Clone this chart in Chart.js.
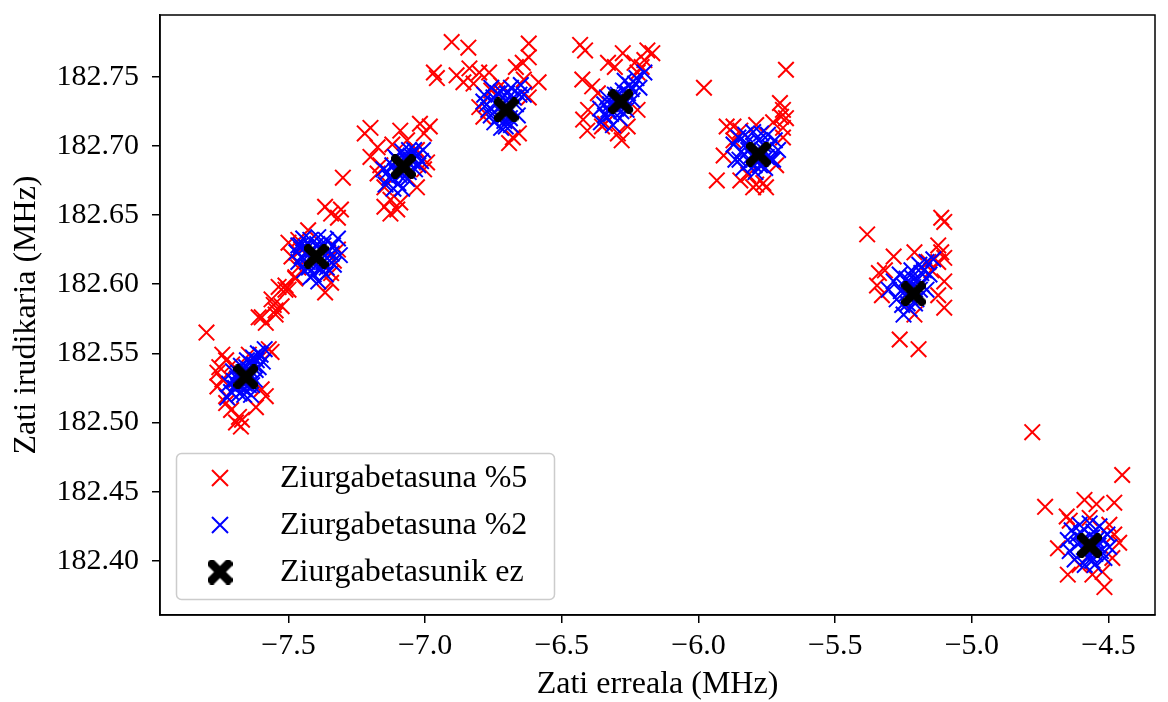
<!DOCTYPE html>
<html>
<head>
<meta charset="utf-8">
<script src="https://cdn.jsdelivr.net/npm/chart.js@4.4.1/dist/chart.umd.min.js"></script>
<style>
  html, body { margin: 0; padding: 0; background: #fff; }
  #wrap { width: 1168px; height: 702px; }
</style>
</head>
<body>
<div id="wrap"><canvas id="chartjs" width="1168" height="702"></canvas></div>
<script>
// axis ticks
const xTicks = [-7.5, -7.0, -6.5, -6.0, -5.5, -5.0, -4.5];
const yTicks = [182.40, 182.45, 182.50, 182.55, 182.60, 182.65, 182.70, 182.75];

// series labels
const seriesLabels = ["Ziurgabetasuna %5", "Ziurgabetasuna %2", "Ziurgabetasunik ez"];

// uncertainty 5% (red)
const red5 = [
    // cluster 1
    [-7.800, 182.565], [-7.554, 182.585], [-7.525, 182.584], [-7.609, 182.576], [-7.583, 182.572],
    [-7.547, 182.578], [-7.572, 182.553], [-7.562, 182.551], [-7.742, 182.549], [-7.728, 182.545],
    [-7.753, 182.540], [-7.760, 182.536], [-7.742, 182.531], [-7.760, 182.526], [-7.598, 182.524],
    [-7.583, 182.519], [-7.728, 182.519], [-7.728, 182.514], [-7.710, 182.509], [-7.681, 182.504],
    [-7.692, 182.500], [-7.674, 182.497], [-7.670, 182.502], [-7.619, 182.511], [-7.706, 182.542],
    [-7.645, 182.549],
    // cluster 2
    [-7.500, 182.596], [-7.475, 182.604], [-7.511, 182.599],
    [-7.366, 182.656], [-7.344, 182.651], [-7.308, 182.654], [-7.319, 182.648], [-7.301, 182.677],
    [-7.500, 182.630], [-7.464, 182.632], [-7.453, 182.625], [-7.489, 182.620], [-7.464, 182.612],
    [-7.475, 182.605], [-7.536, 182.598], [-7.511, 182.596], [-7.562, 182.589], [-7.547, 182.581],
    [-7.598, 182.576], [-7.366, 182.594], [-7.344, 182.601], [-7.344, 182.608], [-7.319, 182.625],
    [-7.428, 182.639], [-7.334, 182.617],
    // cluster 3
    [-7.200, 182.713], [-7.221, 182.709], [-7.174, 182.699], [-7.200, 182.692], [-7.091, 182.711],
    [-7.019, 182.716], [-6.983, 182.714], [-7.004, 182.709], [-7.174, 182.680], [-7.149, 182.670],
    [-7.127, 182.661], [-7.149, 182.656], [-7.091, 182.659], [-7.004, 182.683], [-7.030, 182.670],
    [-6.993, 182.688], [-7.127, 182.651], [-7.102, 182.654], [-7.164, 182.686], [-7.066, 182.704],
    [-7.120, 182.701], [-7.030, 182.697],
    // cluster 4
    [-6.903, 182.775], [-6.842, 182.771], [-6.968, 182.753], [-6.957, 182.749], [-6.885, 182.751],
    [-6.860, 182.746], [-6.838, 182.756], [-6.802, 182.753], [-6.823, 182.745], [-6.766, 182.753],
    [-6.668, 182.757], [-6.621, 182.774], [-6.621, 182.764], [-6.643, 182.760], [-6.585, 182.746],
    [-6.621, 182.735], [-6.802, 182.728], [-6.787, 182.721], [-6.679, 182.706], [-6.657, 182.709],
    [-6.693, 182.702], [-6.758, 182.740], [-6.722, 182.744], [-6.639, 182.748],
    // cluster 5
    [-6.433, 182.773], [-6.415, 182.769], [-6.277, 182.767], [-6.169, 182.767], [-6.198, 182.762],
    [-6.234, 182.760], [-6.306, 182.757], [-6.425, 182.748], [-6.389, 182.743], [-6.368, 182.738],
    [-6.404, 182.726], [-6.422, 182.719], [-6.407, 182.711], [-6.342, 182.716], [-6.295, 182.709],
    [-6.281, 182.704], [-6.223, 182.726], [-6.223, 182.753], [-6.208, 182.757], [-6.187, 182.769],
    [-6.331, 182.760], [-6.353, 182.714], [-6.259, 182.714],
    // cluster 6
    [-5.680, 182.755], [-5.980, 182.742], [-5.702, 182.731], [-5.691, 182.726], [-5.698, 182.721],
    [-5.680, 182.720], [-5.691, 182.713], [-5.727, 182.717], [-5.897, 182.714], [-5.872, 182.714],
    [-5.847, 182.711], [-5.789, 182.715], [-5.908, 182.693], [-5.933, 182.675], [-5.847, 182.675],
    [-5.789, 182.672], [-5.763, 182.673], [-5.753, 182.670], [-5.800, 182.670], [-5.691, 182.706],
    [-5.716, 182.686], [-5.872, 182.704], [-5.818, 182.679],
    // cluster 7
    [-5.383, 182.636], [-5.112, 182.648], [-5.101, 182.645], [-5.286, 182.620], [-5.210, 182.623],
    [-5.123, 182.628], [-5.112, 182.623], [-5.101, 182.619], [-5.123, 182.616], [-5.340, 182.608],
    [-5.318, 182.610], [-5.101, 182.602], [-5.329, 182.592], [-5.123, 182.592], [-5.101, 182.583],
    [-5.264, 182.560], [-5.195, 182.553], [-5.210, 182.578], [-5.159, 182.616], [-5.347, 182.599],
    [-5.148, 182.610],
    // cluster 8
    [-4.779, 182.493], [-4.450, 182.462], [-4.732, 182.439], [-4.588, 182.444], [-4.544, 182.441],
    [-4.479, 182.442], [-4.653, 182.432], [-4.642, 182.429], [-4.569, 182.431], [-4.497, 182.426],
    [-4.685, 182.409], [-4.461, 182.413], [-4.486, 182.402], [-4.649, 182.390], [-4.559, 182.390],
    [-4.522, 182.392], [-4.515, 182.381], [-4.606, 182.397], [-4.479, 182.419]
];

// uncertainty 2% (blue)
const blue2 = [
    // cluster 1
    [-7.724, 182.518], [-7.710, 182.522], [-7.695, 182.525], [-7.681, 182.527], [-7.688, 182.532],
    [-7.666, 182.529], [-7.652, 182.537], [-7.637, 182.534], [-7.627, 182.542], [-7.616, 182.545],
    [-7.602, 182.549], [-7.587, 182.553], [-7.609, 182.540], [-7.663, 182.524], [-7.645, 182.527],
    [-7.703, 182.537], [-7.674, 182.541], [-7.623, 182.531], [-7.717, 182.528], [-7.637, 182.520],
    [-7.594, 182.544], [-7.652, 182.545], [-7.668, 182.535], [-7.641, 182.538], [-7.659, 182.528],
    [-7.630, 182.547], [-7.679, 182.521], [-7.648, 182.531], [-7.690, 182.528], [-7.620, 182.538],
    [-7.672, 182.531], [-7.655, 182.540], [-7.640, 182.543], [-7.684, 182.536], [-7.662, 182.520],
    [-7.612, 182.550], [-7.700, 182.530], [-7.633, 182.527],
    // cluster 2
    [-7.464, 182.628], [-7.446, 182.633], [-7.420, 182.632], [-7.391, 182.634], [-7.363, 182.632],
    [-7.337, 182.628], [-7.319, 182.633], [-7.464, 182.616], [-7.442, 182.610], [-7.420, 182.605],
    [-7.391, 182.602], [-7.363, 182.607], [-7.334, 182.614], [-7.312, 182.621], [-7.428, 182.621],
    [-7.373, 182.616], [-7.410, 182.625], [-7.471, 182.623], [-7.355, 182.623], [-7.402, 182.613],
    [-7.385, 182.625], [-7.413, 182.617], [-7.380, 182.611], [-7.437, 182.627], [-7.350, 182.617],
    [-7.395, 182.629], [-7.425, 182.612], [-7.452, 182.620], [-7.408, 182.607], [-7.372, 182.628],
    [-7.342, 182.622], [-7.432, 182.616], [-7.398, 182.620], [-7.455, 182.628], [-7.360, 182.612],
    // cluster 3
    [-7.145, 182.672], [-7.131, 182.677], [-7.153, 182.683], [-7.116, 182.669], [-7.102, 182.690],
    [-7.084, 182.696], [-7.059, 182.697], [-7.030, 182.693], [-7.008, 182.697], [-7.037, 182.683],
    [-7.066, 182.676], [-7.095, 182.679], [-7.015, 182.689], [-7.120, 182.686], [-7.048, 182.689],
    [-7.084, 182.669], [-7.071, 182.685], [-7.090, 182.688], [-7.060, 182.681], [-7.108, 182.682],
    [-7.075, 182.692], [-7.052, 182.693], [-7.098, 182.673], [-7.125, 182.678], [-7.040, 182.697],
    [-7.083, 182.680], [-7.110, 182.692], [-7.065, 182.689], [-7.138, 182.681], [-7.025, 182.686],
    // cluster 4
    [-6.784, 182.737], [-6.758, 182.742], [-6.722, 182.739], [-6.686, 182.742], [-6.650, 182.744],
    [-6.639, 182.737], [-6.769, 182.726], [-6.747, 182.717], [-6.722, 182.713], [-6.686, 182.715],
    [-6.661, 182.722], [-6.704, 182.733], [-6.740, 182.730], [-6.668, 182.730], [-6.787, 182.732],
    [-6.715, 182.723], [-6.695, 182.727], [-6.730, 182.721], [-6.710, 182.718], [-6.676, 182.735],
    [-6.750, 182.735], [-6.700, 182.738], [-6.760, 182.722], [-6.690, 182.720], [-6.735, 182.738],
    [-6.655, 182.737], [-6.720, 182.729], [-6.775, 182.730], [-6.705, 182.714],
    // cluster 5
    [-6.357, 182.717], [-6.342, 182.722], [-6.360, 182.727], [-6.324, 182.730], [-6.306, 182.737],
    [-6.277, 182.740], [-6.252, 182.744], [-6.227, 182.749], [-6.198, 182.753], [-6.216, 182.742],
    [-6.241, 182.733], [-6.263, 182.726], [-6.288, 182.720], [-6.313, 182.715], [-6.335, 182.735],
    [-6.270, 182.747], [-6.290, 182.731], [-6.275, 182.735], [-6.300, 182.727], [-6.320, 182.723],
    [-6.258, 182.738], [-6.282, 182.725], [-6.305, 182.732], [-6.330, 182.726], [-6.245, 182.741],
    [-6.295, 182.737], [-6.268, 182.731], [-6.345, 182.730], [-6.232, 182.745],
    // cluster 6
    [-5.872, 182.701], [-5.854, 182.706], [-5.829, 182.708], [-5.800, 182.710], [-5.771, 182.709],
    [-5.746, 182.708], [-5.721, 182.704], [-5.709, 182.697], [-5.727, 182.690], [-5.756, 182.684],
    [-5.792, 182.681], [-5.836, 182.684], [-5.865, 182.690], [-5.818, 182.697], [-5.763, 182.701],
    [-5.843, 182.696], [-5.785, 182.690], [-5.770, 182.695], [-5.800, 182.700], [-5.795, 182.686],
    [-5.750, 182.692], [-5.812, 182.688], [-5.740, 182.699], [-5.825, 182.702], [-5.780, 182.704],
    [-5.758, 182.696], [-5.805, 182.693], [-5.775, 182.686], [-5.850, 182.690], [-5.735, 182.690],
    // cluster 7
    [-5.304, 182.596], [-5.286, 182.602], [-5.264, 182.607], [-5.239, 182.604], [-5.221, 182.610],
    [-5.192, 182.614], [-5.166, 182.616], [-5.141, 182.618], [-5.155, 182.607], [-5.184, 182.600],
    [-5.203, 182.589], [-5.228, 182.582], [-5.250, 182.578], [-5.275, 182.589], [-5.239, 182.593],
    [-5.166, 182.596], [-5.215, 182.598], [-5.200, 182.603], [-5.225, 182.590], [-5.208, 182.586],
    [-5.245, 182.598], [-5.185, 182.608], [-5.230, 182.600], [-5.260, 182.595], [-5.212, 182.594],
    [-5.190, 182.596], [-5.235, 182.586], [-5.175, 182.610], [-5.255, 182.585], [-5.220, 182.605],
    // cluster 8
    [-4.649, 182.415], [-4.635, 182.422], [-4.606, 182.426], [-4.569, 182.427], [-4.533, 182.425],
    [-4.504, 182.419], [-4.497, 182.410], [-4.515, 182.402], [-4.551, 182.397], [-4.587, 182.397],
    [-4.624, 182.401], [-4.642, 182.407], [-4.595, 182.415], [-4.537, 182.411], [-4.569, 182.404],
    [-4.575, 182.412], [-4.560, 182.417], [-4.585, 182.407], [-4.612, 182.412], [-4.548, 182.405],
    [-4.522, 182.416], [-4.600, 182.420], [-4.560, 182.400], [-4.590, 182.410], [-4.555, 182.421],
    [-4.528, 182.407], [-4.618, 182.418], [-4.575, 182.402], [-4.545, 182.415]
];

// no uncertainty (black)
const exact = [
    [-7.656, 182.533], [-7.399, 182.620], [-7.080, 182.685], [-6.704, 182.726],
    [-6.284, 182.732], [-5.781, 182.694], [-5.213, 182.593], [-4.569, 182.411]
];

const toXY = arr => arr.map(p => ({ x: p[0], y: p[1] }));
const fmt = (v, d) => v.toFixed(d).replace('-', '\u2212');

// filled "X" marker like matplotlib
function makeFilledX(size) {
    const c = document.createElement('canvas');
    c.width = size;
    c.height = size;
    const g = c.getContext('2d');
    const s = size / 2;
    const w = size * 0.17;
    g.translate(s, s);
    g.rotate(Math.PI / 4);
    g.fillStyle = 'black';
    g.fillRect(-s * 1.25, -w, s * 2.5, w * 2);
    g.fillRect(-w, -s * 1.25, w * 2, s * 2.5);
    return c;
}
const filledX = makeFilledX(25);

const serif = "'Liberation Serif', 'DejaVu Serif', serif";

const framePlugin = {
    id: 'frame',
    afterDraw(chart) {
        const { ctx, chartArea: a } = chart;
        ctx.save();
        ctx.strokeStyle = 'black';
        ctx.lineWidth = 1.5;
        ctx.strokeRect(a.left, a.top, a.right - a.left, a.bottom - a.top);

        // legend box
        const bx = 176.5, by = 453.5, bw = 378, bh = 146, r = 5;
        ctx.beginPath();
        ctx.moveTo(bx + r, by);
        ctx.arcTo(bx + bw, by, bx + bw, by + bh, r);
        ctx.arcTo(bx + bw, by + bh, bx, by + bh, r);
        ctx.arcTo(bx, by + bh, bx, by, r);
        ctx.arcTo(bx, by, bx + bw, by, r);
        ctx.closePath();
        ctx.fillStyle = 'rgba(255,255,255,0.8)';
        ctx.fill();
        ctx.strokeStyle = '#cccccc';
        ctx.lineWidth = 1.5;
        ctx.stroke();

        const rows = [478, 525, 572];
        const colors = ['red', 'blue', 'black'];
        ctx.font = "32px " + serif;
        ctx.textBaseline = 'middle';
        ctx.textAlign = 'left';
        rows.forEach((yy, i) => {
            if (i < 2) {
                ctx.strokeStyle = colors[i];
                ctx.lineWidth = 2;
                ctx.beginPath();
                ctx.moveTo(212, yy - 8);
                ctx.lineTo(228, yy + 8);
                ctx.moveTo(212, yy + 8);
                ctx.lineTo(228, yy - 8);
                ctx.stroke();
            } else {
                ctx.drawImage(filledX, 220 - 12.5, yy - 12.5);
            }
            ctx.fillStyle = 'black';
            ctx.fillText(seriesLabels[i], 280, yy + 1);
        });
        ctx.restore();
    }
};

new Chart(document.getElementById('chartjs'), {
    type: 'scatter',
    data: {
        datasets: [{
            label: seriesLabels[0],
            data: toXY(red5),
            pointStyle: 'crossRot',
            borderColor: 'red',
            backgroundColor: 'red',
            pointRadius: 11,
            borderWidth: 2,
            order: 3
        }, {
            label: seriesLabels[1],
            data: toXY(blue2),
            pointStyle: 'crossRot',
            borderColor: 'blue',
            backgroundColor: 'blue',
            pointRadius: 11,
            borderWidth: 2,
            order: 2
        }, {
            label: seriesLabels[2],
            data: toXY(exact),
            pointStyle: filledX,
            borderColor: 'black',
            backgroundColor: 'black',
            pointRadius: 12,
            order: 1
        }]
    },
    options: {
        responsive: false,
        animation: false,
        devicePixelRatio: 1,
        layout: { padding: { top: 15, right: 2, left: 0, bottom: 0 } },
        plugins: {
            legend: { display: false },
            tooltip: { enabled: false }
        },
        scales: {
            x: {
                type: 'linear',
                min: -7.97,
                max: -4.33,
                afterBuildTicks: s => { s.ticks = xTicks.map(v => ({ value: v })); },
                afterFit: s => {
                    s.height = 87;
                    s.paddingLeft = 0; s.paddingRight = 0; s.paddingTop = 0; s.paddingBottom = 0;
                },
                grid: { display: true, drawOnChartArea: false, drawTicks: true, tickLength: 8, color: 'black', lineWidth: 1.5 },
                border: { display: true, color: 'black', width: 1.5 },
                ticks: {
                    color: 'black',
                    padding: 5,
                    maxRotation: 0,
                    font: { family: serif, size: 30 },
                    callback: v => fmt(v, 1)
                },
                title: {
                    display: true,
                    text: 'Zati erreala (MHz)',
                    color: 'black',
                    padding: { top: 0, bottom: 1 },
                    font: { family: serif, size: 32, lineHeight: 1 }
                }
            },
            y: {
                type: 'linear',
                min: 182.3608,
                max: 182.7946,
                afterBuildTicks: s => { s.ticks = yTicks.map(v => ({ value: v })); },
                afterFit: s => {
                    s.width = 160;
                    s.paddingLeft = 0; s.paddingRight = 0; s.paddingTop = 0; s.paddingBottom = 0;
                },
                grid: { display: true, drawOnChartArea: false, drawTicks: true, tickLength: 8, color: 'black', lineWidth: 1.5 },
                border: { display: true, color: 'black', width: 1.5 },
                ticks: {
                    color: 'black',
                    padding: 13,
                    font: { family: serif, size: 30 },
                    callback: v => fmt(v, 2)
                },
                title: {
                    display: true,
                    text: 'Zati irudikaria (MHz)',
                    color: 'black',
                    padding: { top: 11, bottom: 0 },
                    font: { family: serif, size: 32, lineHeight: 1 }
                }
            }
        }
    },
    plugins: [framePlugin]
});
</script>
</body>
</html>
